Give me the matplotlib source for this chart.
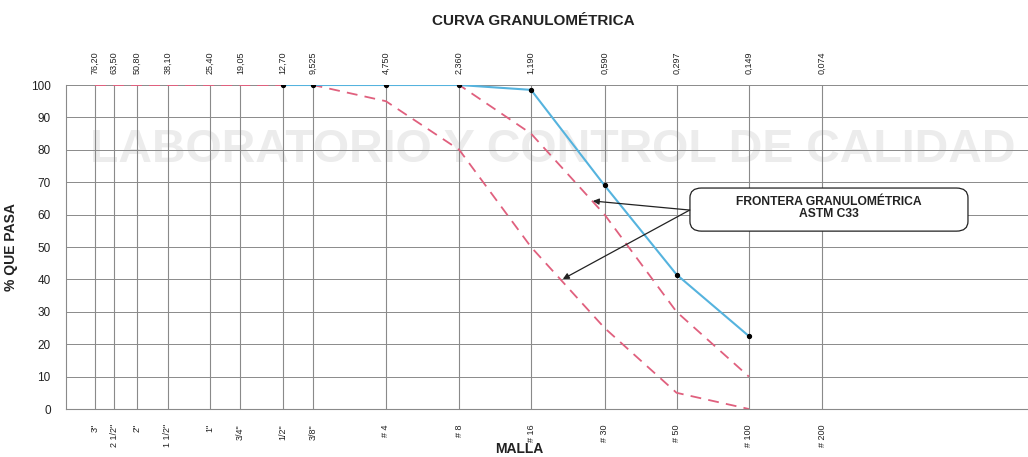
import matplotlib.pyplot as plt
import matplotlib.ticker as mticker
from matplotlib.patches import FancyBboxPatch

# sieve openings (mm) and their names
sieve_mm = [76.2, 63.5, 50.8, 38.1, 25.4, 19.05, 12.7, 9.525, 4.75, 2.36, 1.19, 0.59, 0.297, 0.149, 0.074]
mm_labels = ["76,20", "63,50", "50,80", "38,10", "25,40", "19,05", "12,70", "9,525",
             "4,750", "2,360", "1,190", "0,590", "0,297", "0,149", "0,074"]
sieve_names = ['3"', '2 1/2"', '2"', '1 1/2"', '1"', '3/4"', '1/2"', '3/8"',
               "# 4", "# 8", "# 16", "# 30", "# 50", "# 100", "# 200"]

# sample curve
sample_mm = [12.7, 9.525, 4.75, 2.36, 1.19, 0.59, 0.297, 0.149]
sample_pass = [100, 100, 100, 100, 98.5, 69, 41.5, 22.5]

# ASTM C33 limits
upper_mm = [76.2, 9.525, 4.75, 2.36, 1.19, 0.59, 0.297, 0.149]
upper_pass = [100, 100, 100, 100, 85, 60, 30, 10]
lower_mm = [76.2, 9.525, 4.75, 2.36, 1.19, 0.59, 0.297, 0.149]
lower_pass = [100, 100, 95, 80, 50, 25, 5, 0]

GRID = "#8a8a8a"
PINK = "#e0607e"
BLUE = "#55b3de"
TXT = "#222222"

plt.rcParams["font.family"] = ["Liberation Sans", "DejaVu Sans"]

fig = plt.figure(figsize=(10.28, 4.57), dpi=100, facecolor="white")
ax = fig.add_axes([66 / 1028, 1 - 409 / 457, 1 - 66 / 1028, (409 - 85) / 457])

ax.set_xscale("log")
ax.set_xlim(100.4, 0.0104)
ax.set_ylim(0, 100)

# watermark
ax.text(0.025, 0.80, "LABORATORIO Y CONTROL DE CALIDAD", transform=ax.transAxes,
        fontsize=33.5, fontweight="bold", color="#ececec", ha="left", va="center",
        zorder=0)

# grid
for v in range(10, 101, 10):
    ax.axhline(v, color=GRID, linewidth=0.7, zorder=1)
for s in sieve_mm:
    ax.axvline(s, color=GRID, linewidth=0.8, zorder=1)

for sp in ["top", "right"]:
    ax.spines[sp].set_visible(False)
ax.spines["left"].set_color(GRID)
ax.spines["bottom"].set_color(GRID)
ax.spines["left"].set_linewidth(0.8)
ax.spines["bottom"].set_linewidth(0.8)

ax.plot(upper_mm, upper_pass, color=PINK, linewidth=1.3, dashes=(6, 4), zorder=2)
ax.plot(lower_mm, lower_pass, color=PINK, linewidth=1.3, dashes=(6, 4), zorder=2)
ax.plot(sample_mm, sample_pass, color=BLUE, linewidth=1.5, zorder=3)
ax.plot(sample_mm, sample_pass, "o", color="black", markersize=2.8, zorder=4)

ax.set_yticks(range(0, 101, 10))
ax.tick_params(axis="y", length=0, pad=11, labelsize=8.5, labelcolor=TXT)
ax.xaxis.set_major_locator(mticker.FixedLocator(sieve_mm))
ax.xaxis.set_minor_locator(mticker.NullLocator())
ax.set_xticklabels(sieve_names, rotation=90, va="top", fontsize=6.5, color=TXT)
ax.tick_params(axis="x", length=0, pad=11)

top = ax.secondary_xaxis("top")
top.xaxis.set_major_locator(mticker.FixedLocator(sieve_mm))
top.xaxis.set_minor_locator(mticker.NullLocator())
top.set_xticklabels(mm_labels, rotation=90, va="bottom", fontsize=6.5, color=TXT)
top.tick_params(axis="x", length=0, pad=8)
top.spines["top"].set_visible(False)

ax.set_ylabel("% QUE PASA", fontsize=10, fontweight="bold", color=TXT)
ax.yaxis.set_label_coords(-0.05, 0.5)
fig.text(519 / 1028, 1 - 449 / 457, "MALLA", fontsize=10, fontweight="bold",
         ha="center", va="center", color=TXT)
fig.text(533 / 1028, 1 - 21 / 457, "CURVA GRANULOMÉTRICA", fontsize=11,
         fontweight="bold", ha="center", va="center", color=TXT)

# callout box with arrows
box = FancyBboxPatch((0.6486, 0.549), 0.289, 0.133, transform=ax.transAxes,
                     boxstyle="round,pad=0,rounding_size=0.012", fc="white",
                     ec=TXT, lw=0.9, zorder=5, mutation_aspect=2.5)
ax.add_patch(box)
ax.text(0.0697, 62.0, "FRONTERA GRANULOMÉTRICA\nASTM C33", fontsize=8.7,
        fontweight="bold", ha="center", va="center", color=TXT, zorder=6,
        linespacing=1.05)
for tip in [(0.66, 64.2), (0.879, 40.1)]:
    ax.annotate("", xy=tip, xytext=(0.262, 61.4),
                arrowprops=dict(arrowstyle="-|>", color=TXT, lw=0.9,
                                mutation_scale=9, shrinkA=0, shrinkB=0),
                zorder=5)

fig.savefig("out.png", dpi=100, facecolor="white")
